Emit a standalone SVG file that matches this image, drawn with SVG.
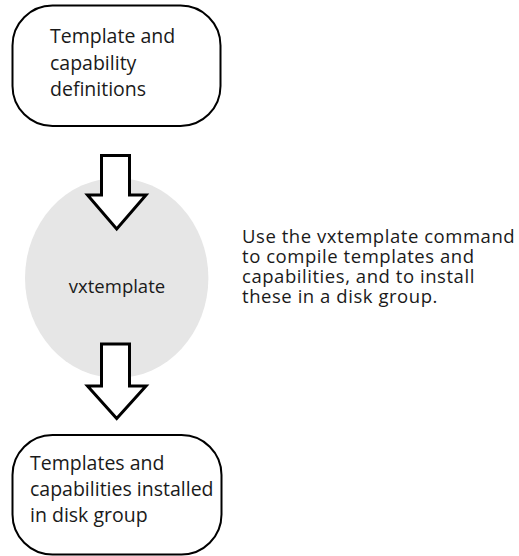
<svg xmlns="http://www.w3.org/2000/svg" width="519" height="556" viewBox="0 0 519 556">
  <style>
    .box { fill: #ffffff; stroke: #000000; stroke-width: 2; }
    .hub { fill: #e6e6e6; stroke: none; }
    .flow { fill: #ffffff; stroke: #000000; stroke-width: 3; stroke-linejoin: miter; }
    .label { font-family: "Open Sans", "Noto Sans", sans-serif; fill: #1a1a1a; }
    .big { font-size: 19.5px; }
    .mid { font-size: 18.5px; }
    .note { font-size: 18.5px; letter-spacing: 0.55px; }
  </style>
  <rect width="519" height="556" fill="#ffffff"/>

  <!-- input node -->
  <g id="definitions">
    <rect class="box" x="12.5" y="5.5" width="208" height="120.5" rx="40" ry="40"/>
    <text class="label big" x="50" y="43.3">Template and</text>
    <text class="label big" x="50" y="69.6">capability</text>
    <text class="label big" x="50" y="95.9">definitions</text>
  </g>

  <!-- processing step -->
  <g id="vxtemplate">
    <ellipse class="hub" cx="116.7" cy="278" rx="91.7" ry="100"/>
    <text class="label mid" x="117" y="292.7" text-anchor="middle">vxtemplate</text>
  </g>

  <!-- output node -->
  <g id="installed">
    <rect class="box" x="12.5" y="435" width="209" height="119.5" rx="40" ry="40"/>
    <text class="label big" x="30" y="470.3">Templates and</text>
    <text class="label big" x="30" y="496.3">capabilities installed</text>
    <text class="label big" x="30" y="522">in disk group</text>
  </g>

  <!-- block arrows -->
  <g id="connectors">
    <path class="flow" d="M101.5,155.5 H129.5 V195 H146 L116.7,229 L87.5,195 H101.5 Z"/>
    <path class="flow" d="M101.5,344 H129.5 V386 H146 L116.7,418.5 L87.5,386 H101.5 Z"/>
  </g>

  <!-- explanatory note -->
  <g id="note">
    <text class="label note" x="242" y="242.7">Use the vxtemplate command</text>
    <text class="label note" x="242" y="262.7">to compile templates and</text>
    <text class="label note" x="242" y="282.7">capabilities, and to install</text>
    <text class="label note" x="242" y="302.7">these in a disk group.</text>
  </g>
</svg>
